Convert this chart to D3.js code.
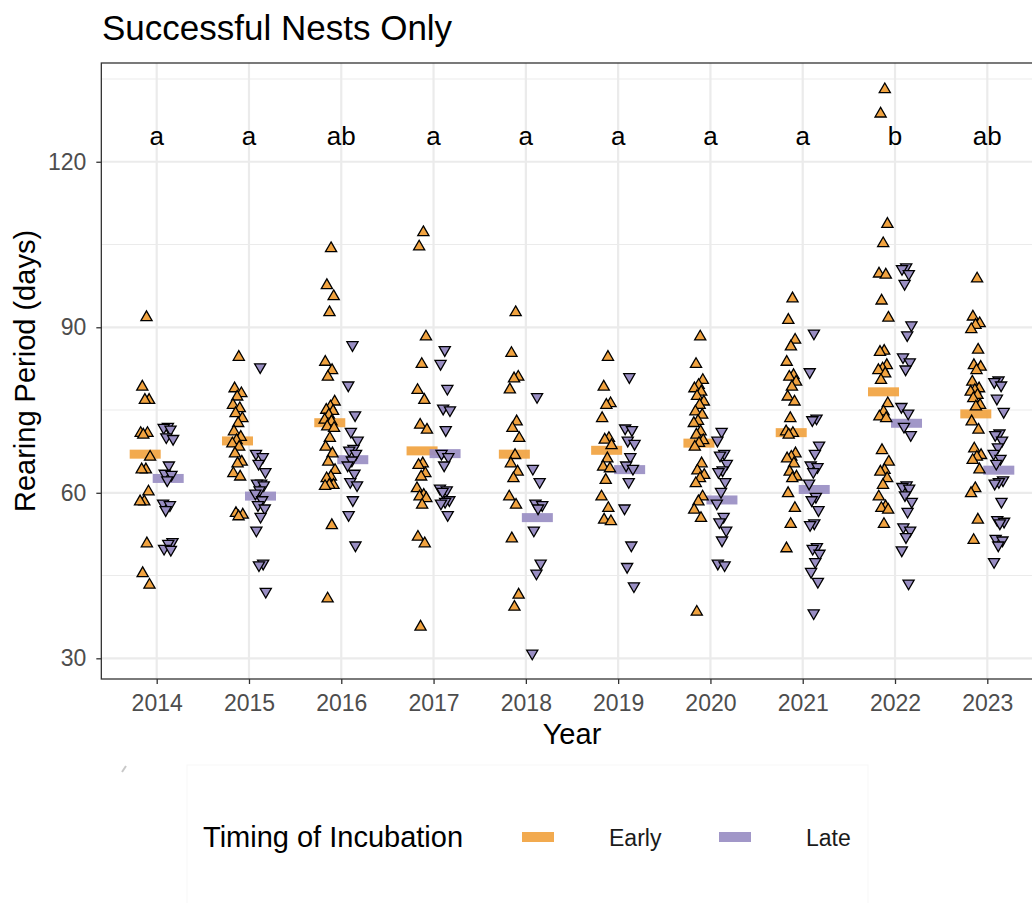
<!DOCTYPE html>
<html>
<head>
<meta charset="utf-8">
<script src="https://cdn.jsdelivr.net/npm/d3@7"></script>
<style>
  body { margin: 0; background: #ffffff; }
  text { font-family: "Liberation Sans", Arial, sans-serif; }
</style>
</head>
<body>
<script>
// ---------------- DATA ----------------
const years = ["2014","2015","2016","2017","2018","2019","2020","2021","2022","2023"];
const groupLabels = ["a","a","ab","a","a","a","a","a","b","ab"];
const yTickValues = [30, 60, 90, 120];
const yMinorValues = [45, 75, 105, 135];
const seriesNames = ["Early", "Late"];
const seriesColors = ["#f1a340", "#998ec3"];

// rearing period (days) of each nest, per year
const earlyValues = [
  [91.8, 79.2, 76.8, 76.8, 70.8, 70.8, 70.5, 66.5, 64.2, 64.2, 60.2, 58.4, 58.4, 50.8, 45.4, 43.3],
  [84.6, 78.9, 78.0, 77.4, 75.9, 75.3, 74.4, 73.5, 72.6, 71.1, 70.1, 69.5, 68.9, 68.3, 67.1, 65.6, 65.3, 63.5, 62.9, 56.3, 56.0, 55.7],
  [104.3, 97.6, 95.6, 92.7, 83.7, 82.2, 81.0, 76.5, 75.6, 75.0, 74.8, 74.1, 73.2, 72.9, 72.0, 71.7, 69.9, 68.3, 67.1, 65.6, 64.1, 62.9, 62.6, 61.4, 61.4, 61.2, 54.1, 40.8],
  [107.2, 104.6, 88.3, 83.3, 78.6, 76.8, 72.3, 71.4, 65.3, 65.0, 63.5, 62.9, 60.8, 59.6, 59.3, 59.0, 57.8, 52.0, 50.8, 35.7],
  [92.7, 85.3, 81.0, 80.7, 78.7, 72.9, 71.7, 69.9, 66.8, 65.3, 63.8, 62.6, 59.3, 57.8, 51.7, 41.5, 39.3],
  [84.6, 79.2, 76.2, 75.9, 73.5, 69.9, 69.6, 68.6, 66.2, 64.7, 64.4, 62.3, 59.3, 57.2, 55.1, 54.8],
  [88.3, 83.3, 80.4, 79.5, 78.9, 78.3, 77.5, 76.5, 75.9, 74.7, 74.1, 73.0, 72.6, 71.1, 70.5, 69.5, 69.0, 68.3, 65.3, 64.0, 63.2, 62.6, 61.7, 59.3, 58.4, 56.9, 55.4, 38.4],
  [95.2, 91.3, 87.7, 86.5, 83.7, 81.3, 81.0, 80.1, 79.2, 77.4, 76.5, 73.5, 71.1, 70.8, 70.5, 67.1, 66.5, 66.2, 65.3, 63.8, 62.9, 62.6, 59.9, 57.2, 54.3, 49.9],
  [133.1, 128.7, 108.7, 105.2, 99.7, 99.5, 94.8, 91.7, 85.7, 85.5, 83.1, 82.5, 82.2, 81.6, 80.4, 76.2, 74.7, 73.8, 73.5, 67.7, 65.6, 64.1, 63.8, 62.6, 61.4, 59.3, 57.5, 57.2, 56.9, 54.3],
  [98.8, 91.9, 90.7, 90.4, 89.6, 85.9, 83.1, 82.8, 82.2, 80.1, 78.9, 78.6, 78.3, 77.7, 77.1, 75.9, 75.6, 72.9, 71.4, 68.0, 66.8, 66.5, 65.9, 64.2, 60.8, 59.9, 55.1, 51.4]
];
const lateValues = [
  [72.0, 71.8, 71.5, 70.1, 69.8, 65.0, 63.5, 63.3, 62.3, 58.1, 57.8, 56.9, 51.1, 50.8, 49.9, 49.7],
  [82.8, 67.1, 66.5, 65.3, 63.8, 61.7, 61.7, 61.4, 60.5, 59.9, 58.7, 57.8, 57.2, 55.7, 53.2, 47.2, 46.9, 42.1],
  [86.8, 79.5, 74.1, 71.1, 69.5, 68.0, 67.7, 67.1, 65.9, 65.0, 63.5, 62.0, 61.4, 58.7, 56.0, 50.5],
  [85.9, 83.4, 78.9, 75.3, 75.0, 71.4, 67.1, 66.5, 65.0, 60.8, 60.5, 60.2, 58.7, 58.4, 58.1, 56.0],
  [77.4, 64.4, 62.0, 58.1, 57.8, 57.2, 53.2, 47.2, 45.4, 30.9],
  [81.0, 71.7, 71.4, 69.5, 68.9, 66.5, 65.0, 64.4, 62.0, 57.2, 50.5, 46.6, 43.1],
  [71.1, 69.5, 67.1, 66.8, 65.3, 64.1, 63.8, 62.0, 60.2, 58.1, 55.7, 54.7, 53.2, 51.4, 47.2, 46.9],
  [88.9, 81.9, 73.5, 73.2, 68.6, 67.1, 65.0, 64.7, 63.8, 61.7, 59.3, 58.7, 56.9, 54.5, 54.2, 50.2, 49.9, 49.0, 47.5, 45.7, 43.9, 38.2],
  [100.9, 100.6, 99.7, 97.9, 90.4, 88.6, 84.6, 83.7, 82.4, 75.6, 74.4, 72.0, 70.5, 61.4, 61.1, 60.8, 59.6, 58.4, 56.6, 53.8, 53.2, 52.0, 49.6, 43.6],
  [80.4, 80.1, 79.5, 77.1, 74.7, 70.8, 70.5, 69.5, 68.3, 67.1, 66.2, 65.3, 62.3, 62.0, 61.7, 58.4, 55.1, 54.8, 54.5, 51.7, 51.4, 50.5, 47.5]
];
// group means (bars)
const earlyMeans = [67.0, 69.4, 72.7, 67.6, 67.0, 67.7, 69.0, 70.9, 78.3, 74.3];
const lateMeans  = [62.6, 59.4, 66.0, 67.1, 55.5, 64.2, 58.7, 60.6, 72.6, 64.1];
const letterLevel = 124.5;

// ---------------- LAYOUT ----------------
const W = 1032, H = 903;
const svg = d3.select("body").append("svg").attr("width", W).attr("height", H);
svg.append("rect").attr("width", W).attr("height", H).attr("fill", "#ffffff");

const x = d3.scalePoint().domain(years).range([156.7, 987.3]);
const step = x.step();
const y = d3.scaleLinear().domain([26.25, 137.9]).range([679, 63]);
const panelL = x(years[0]) - 0.6 * step;
const panelR = x(years[years.length - 1]) + 0.6 * step;
const panelT = y.range()[1], panelB = y.range()[0];
const dodge = 11.5;

// faint legend box / artifact
svg.append("rect").attr("x", 187).attr("y", 765).attr("width", 681).attr("height", 150)
  .attr("fill", "none").attr("stroke", "#f7f7f7").attr("stroke-width", 1);
svg.append("path").attr("d", "M122,772 L126,766").attr("stroke", "#c8c8c8").attr("stroke-width", 2);

// grid
const grid = svg.append("g");
grid.selectAll(".ymin").data(yMinorValues).join("line")
  .attr("x1", panelL).attr("x2", panelR).attr("y1", d => y(d)).attr("y2", d => y(d))
  .attr("stroke", "#ebebeb").attr("stroke-width", 1.1);
grid.selectAll(".ymaj").data(yTickValues).join("line")
  .attr("x1", panelL).attr("x2", panelR).attr("y1", d => y(d)).attr("y2", d => y(d))
  .attr("stroke", "#ebebeb").attr("stroke-width", 2.2);
grid.selectAll(".xmaj").data(years).join("line")
  .attr("x1", d => x(d)).attr("x2", d => x(d)).attr("y1", panelT).attr("y2", panelB)
  .attr("stroke", "#ebebeb").attr("stroke-width", 2.2);

// mean bars
const barW = 31, barH = 9;
const bars = svg.append("g");
bars.selectAll(".eb").data(earlyMeans).join("rect")
  .attr("x", (d, i) => x(years[i]) - dodge - barW / 2)
  .attr("y", d => y(d) - barH / 2)
  .attr("width", barW).attr("height", barH)
  .attr("fill", seriesColors[0]).attr("opacity", 0.92);
bars.selectAll(".lb").data(lateMeans).join("rect")
  .attr("x", (d, i) => x(years[i]) + dodge - barW / 2)
  .attr("y", d => y(d) - barH / 2)
  .attr("width", barW).attr("height", barH)
  .attr("fill", seriesColors[1]).attr("opacity", 0.92);

// points
function flatten(values, side) {
  const out = [];
  values.forEach((arr, yi) => arr.forEach((v, k) => out.push({ year: years[yi], v, k, side })));
  return out;
}
const jit = k => ((((k + 1) * 0.61803398875) % 1) - 0.5) * 11;
const tri = d3.symbol(d3.symbolTriangle, 54)();
const pts = svg.append("g");
pts.selectAll(".ep").data(flatten(earlyValues, -1)).join("path")
  .attr("d", tri)
  .attr("transform", d => `translate(${x(d.year) - dodge + jit(d.k)},${y(d.v)})`)
  .attr("fill", seriesColors[0]).attr("stroke", "#000").attr("stroke-width", 1.3);
pts.selectAll(".lp").data(flatten(lateValues, 1)).join("path")
  .attr("d", tri)
  .attr("transform", d => `translate(${x(d.year) + dodge + jit(d.k + 3)},${y(d.v)}) rotate(180)`)
  .attr("fill", seriesColors[1]).attr("stroke", "#000").attr("stroke-width", 1.3);

// group letters
svg.append("g").selectAll("text").data(groupLabels).join("text")
  .attr("x", (d, i) => x(years[i]))
  .attr("y", y(letterLevel)).attr("dy", "0.31em")
  .attr("text-anchor", "middle").attr("font-size", 26).attr("fill", "#000")
  .text(d => d);

// panel border
svg.append("rect").attr("x", panelL).attr("y", panelT)
  .attr("width", panelR - panelL).attr("height", panelB - panelT)
  .attr("fill", "none").attr("stroke", "#333333").attr("stroke-width", 1.3);

// axes
const yAxis = svg.append("g").attr("transform", `translate(${panelL},0)`)
  .call(d3.axisLeft(y).tickValues(yTickValues).tickSize(5).tickPadding(10));
const xAxis = svg.append("g").attr("transform", `translate(0,${panelB})`)
  .call(d3.axisBottom(x).tickSize(5).tickPadding(11));
[yAxis, xAxis].forEach(g => {
  g.select(".domain").remove();
  g.selectAll(".tick line").attr("stroke", "#333333").attr("stroke-width", 1.3);
  g.selectAll(".tick text").attr("fill", "#4d4d4d").attr("font-size", 23)
    .attr("font-family", "'Liberation Sans', Arial, sans-serif");
});

// titles
svg.append("text").attr("x", 102).attr("y", 40).attr("font-size", 35).attr("fill", "#000")
  .text("Successful Nests Only");
svg.append("text").attr("transform", `translate(35,${(panelT + panelB) / 2}) rotate(-90)`)
  .attr("text-anchor", "middle").attr("font-size", 29).attr("fill", "#000")
  .text("Rearing Period (days)");
svg.append("text").attr("x", (panelL + panelR) / 2).attr("y", 744)
  .attr("text-anchor", "middle").attr("font-size", 29).attr("fill", "#000")
  .text("Year");

// legend
const lg = svg.append("g");
lg.append("text").attr("x", 203).attr("y", 847).attr("font-size", 29).attr("fill", "#000")
  .text("Timing of Incubation");
const keyX = [522, 719], labX = [609, 806];
seriesNames.forEach((name, i) => {
  lg.append("rect").attr("x", keyX[i]).attr("y", 832).attr("width", 32).attr("height", 10)
    .attr("fill", seriesColors[i]).attr("opacity", 0.92);
  lg.append("text").attr("x", labX[i]).attr("y", 846).attr("font-size", 23).attr("fill", "#1a1a1a")
    .text(name);
});
</script>
</body>
</html>
